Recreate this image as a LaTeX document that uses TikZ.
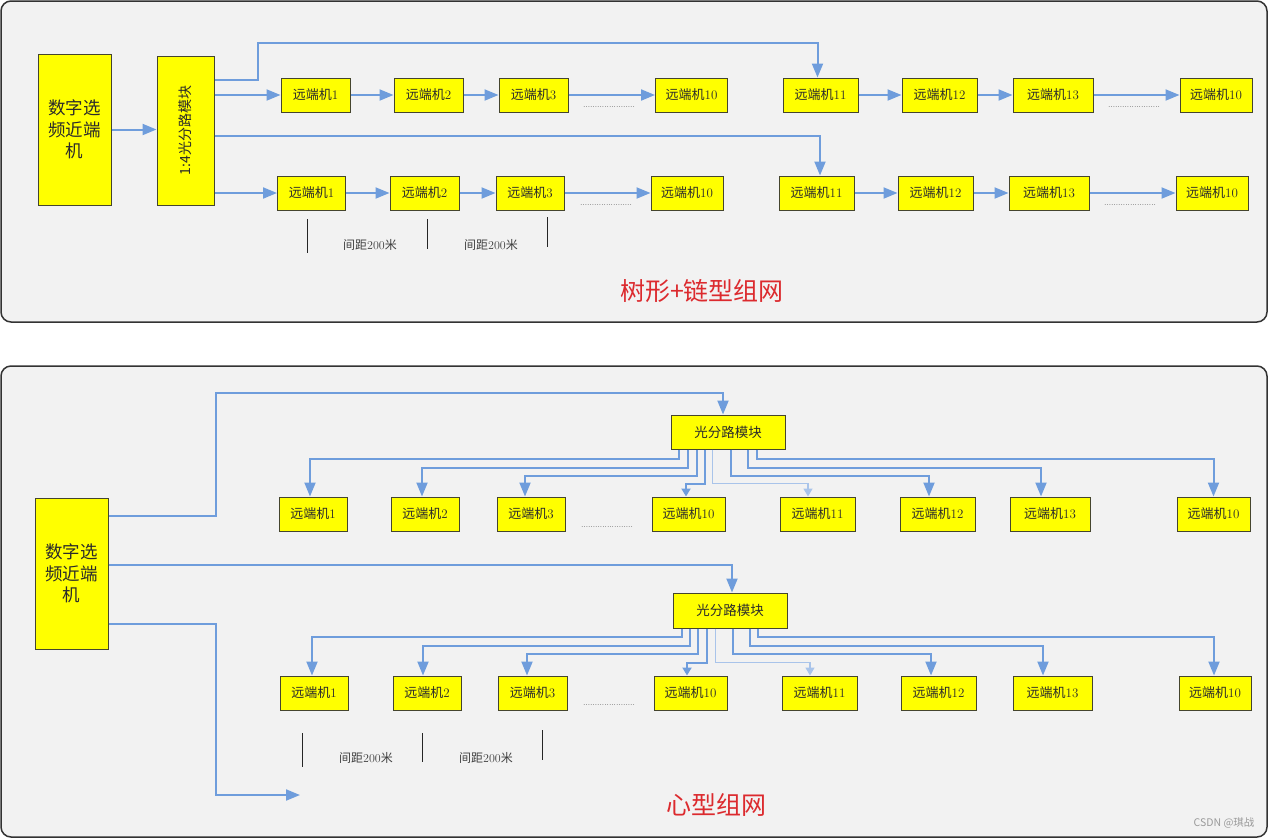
\documentclass[tikz,border=0pt]{standalone}
\usepackage{fontspec}
\usepackage{graphicx}
\newfontfamily\cjk{Noto Sans CJK SC}
\usetikzlibrary{arrows.meta,calc}
\definecolor{panelFill}{HTML}{F2F2F2}
\definecolor{panelStroke}{HTML}{333333}
\definecolor{boxFill}{HTML}{FFFF00}
\definecolor{boxStroke}{HTML}{45452E}
\definecolor{fiber}{HTML}{6F9DDC}
\definecolor{fiberLight}{HTML}{A9C4EA}
\definecolor{titleRed}{HTML}{DC2A2E}
\definecolor{inkText}{HTML}{2B2B2B}
\definecolor{markGray}{HTML}{9A9A9A}
\newcommand{\ydj}[1]{{\cjk 远端机}#1}
\newcommand{\jianju}{{\cjk 间距}200{\cjk 米}}

\begin{document}
\begin{tikzpicture}[
  x=1pt, y=-1pt,
  every node/.style={text=inkText},
  panel/.style={draw=panelStroke, line width=1.5pt, fill=panelFill, rounded corners=10pt},
  remote/.style={draw=boxStroke, fill=boxFill, line width=1pt, inner sep=0pt,
                 minimum width=69pt, minimum height=34pt, font=\fontsize{13}{15}\selectfont},
  near/.style={remote, minimum width=73pt, minimum height=151pt, align=center,
               font=\cjk\fontsize{17.5}{21.5}\selectfont},
  splitbox/.style={remote, minimum width=114pt, minimum height=34pt,
                   font=\cjk\fontsize{13.5}{15}\selectfont},
  flow/.style={-{Triangle[length=14pt,width=11pt]}, line width=2pt, draw=fiber},
  fan/.style={flow},
  fansmall/.style={-{Triangle[length=8pt,width=9pt]}, line width=2pt, draw=fiber},
  fanlight/.style={-{Triangle[length=8pt,width=9pt]}, line width=1.5pt, draw=fiberLight},
  tick/.style={line width=0.8pt, draw=black!85},
  dist/.style={font=\fontsize{12}{14}\selectfont, text=black!75},
  dots/.style={font=\fontsize{8}{8}\selectfont, text=black!85, inner sep=0pt},
  title/.style={font=\cjk\fontsize{25}{28}\selectfont, text=titleRed},
]
\useasboundingbox (0,0) rectangle (1269,839);

% ---------------- PANELS ----------------
\draw[panel] (1,1) rectangle (1267,322);
\draw[panel] (1,366) rectangle (1267,837);

% ---------------- TREE + CHAIN (top) ----------------
\node[near] (NEAR1) at (74.5,129.5) {数字选\\频近端\\机};
\node[remote, minimum width=57pt, minimum height=149pt] (SPLIT) at (185.5,130.5)
  {\rotatebox{90}{\cjk\fontsize{14}{16}\selectfont 1:4光分路模块}};

\node[remote] (TA1) at (315.5,95) {\ydj{1}};
\node[remote] (TA2) at (428.5,95) {\ydj{2}};
\node[remote] (TA3) at (533.5,95) {\ydj{3}};
\node[dots] (TAdots) at (609,107) {......................};
\node[remote, minimum width=72pt] (TA10) at (691.5,95) {\ydj{10}};
\node[remote, minimum width=75pt] (TA11) at (820.5,95) {\ydj{11}};
\node[remote, minimum width=75pt] (TA12) at (939.5,95) {\ydj{12}};
\node[remote, minimum width=80pt] (TA13) at (1053,95) {\ydj{13}};
\node[dots] (TAdots2) at (1134,107) {......................};
\node[remote, minimum width=72pt] (TAE) at (1216,95) {\ydj{10}};

\node[remote, minimum width=68pt] (TB1) at (311.5,193) {\ydj{1}};
\node[remote] (TB2) at (424.5,193) {\ydj{2}};
\node[remote, minimum width=68pt] (TB3) at (530,193) {\ydj{3}};
\node[dots] (TBdots) at (606,205) {......................};
\node[remote, minimum width=72pt] (TB10) at (687,193) {\ydj{10}};
\node[remote, minimum width=75pt] (TB11) at (816.5,193) {\ydj{11}};
\node[remote, minimum width=75pt] (TB12) at (935.5,193) {\ydj{12}};
\node[remote, minimum width=80pt] (TB13) at (1049,193) {\ydj{13}};
\node[dots] (TBdots2) at (1130,205) {......................};
\node[remote, minimum width=72pt] (TBE) at (1212,193) {\ydj{10}};

\draw[flow] (NEAR1.east) -- (NEAR1.east -| SPLIT.west);
\draw[flow] ([yshift=-24pt]SPLIT.north east) -- ++(43,0) -- ++(0,-37) -| ([xshift=-3pt]TA11.north);
\draw[flow] (SPLIT.east |- TA1) -- (TA1);
\draw[flow] ([yshift=-5.5pt]SPLIT.east) -| ([xshift=3.5pt]TB11.north);
\draw[flow] (SPLIT.east |- TB1) -- (TB1);

\draw[flow] (TA1) -- (TA2);
\draw[flow] (TA2) -- (TA3);
\draw[flow] (TA3) -- (TA10);
\draw[flow] (TA11) -- (TA12);
\draw[flow] (TA12) -- (TA13);
\draw[flow] (TA13) -- (TAE);
\draw[flow] (TB1) -- (TB2);
\draw[flow] (TB2) -- (TB3);
\draw[flow] (TB3) -- (TB10);
\draw[flow] (TB11) -- (TB12);
\draw[flow] (TB12) -- (TB13);
\draw[flow] (TB13) -- (TBE);

% spacing marks
\draw[tick] (307,219) -- ++(0,34);
\draw[tick] (427,219) -- ++(0,30);
\draw[tick] (547,217) -- ++(0,30);
\node[dist] (TD1) at (370,245) {\jianju};
\node[dist] (TD2) at (491,245) {\jianju};

\node[title] (TITLE1) at (702,291) {树形+链型组网};

% ---------------- HEART (bottom) ----------------
\node[near] (NEAR2) at (71.5,573.5) {数字选\\频近端\\机};
\node[splitbox] (SPL1) at (728,432) {光分路模块};
\node[splitbox, minimum height=35pt] (SPL2) at (730,610.5) {光分路模块};

\node[remote, minimum width=68pt] (HA1) at (313,514) {\ydj{1}};
\node[remote, minimum width=68pt] (HA2) at (425,514) {\ydj{2}};
\node[remote, minimum width=68pt] (HA3) at (531,514) {\ydj{3}};
\node[dots] (HAdots) at (607,527) {......................};
\node[remote, minimum width=73pt] (HA10) at (688.5,514) {\ydj{10}};
\node[remote, minimum width=75pt] (HA11) at (817.5,514) {\ydj{11}};
\node[remote, minimum width=75pt] (HA12) at (937.5,514) {\ydj{12}};
\node[remote, minimum width=80pt] (HA13) at (1050,514) {\ydj{13}};
\node[remote, minimum width=73pt] (HAE) at (1213.5,514) {\ydj{10}};

\node[remote, minimum width=68pt] (HB1) at (314,693) {\ydj{1}};
\node[remote, minimum width=68pt] (HB2) at (427,693) {\ydj{2}};
\node[remote] (HB3) at (532.5,693) {\ydj{3}};
\node[dots] (HBdots) at (609,705) {......................};
\node[remote, minimum width=73pt] (HB10) at (690.5,693) {\ydj{10}};
\node[remote, minimum width=75pt] (HB11) at (819.5,693) {\ydj{11}};
\node[remote, minimum width=75pt] (HB12) at (938.5,693) {\ydj{12}};
\node[remote, minimum width=79pt] (HB13) at (1052.5,693) {\ydj{13}};
\node[remote, minimum width=72pt] (HBE) at (1215,693) {\ydj{10}};

\coordinate (OPEN) at (300,795);
\draw[flow] ([yshift=-18pt]NEAR2.north east) -- ++(107,0) -- ++(0,-123) -| ([xshift=-5pt]SPL1.north);
\draw[flow] ([yshift=8.5pt]NEAR2.east) -| ([xshift=2pt]SPL2.north);
\draw[flow] ([yshift=-50.5pt]NEAR2.east) -- ++(107,0) |- (OPEN);

% fan-out of the first splitter
\draw[fan] ([xshift=8pt]SPL1.south west) -- ++(0,9) -| ([xshift=-3pt]HA1.north);
\draw[fan] ([xshift=17pt]SPL1.south west) -- ++(0,18) -| ([xshift=-3pt]HA2.north);
\draw[fan] ([xshift=26pt]SPL1.south west) -- ++(0,26) -| ([xshift=-6pt]HA3.north);
\draw[fansmall] ([xshift=34pt]SPL1.south west) -- ++(0,34) -| ([xshift=-2.5pt]HA10.north);
\draw[fanlight] ([xshift=42pt]SPL1.south west) -- ++(0,34) -| ([xshift=-9.5pt]HA11.north);
\draw[fan] ([xshift=60pt]SPL1.south west) -- ++(0,26) -| ([xshift=-8.5pt]HA12.north);
\draw[fan] ([xshift=77pt]SPL1.south west) -- ++(0,18) -| ([xshift=-9pt]HA13.north);
\draw[fan] ([xshift=86pt]SPL1.south west) -- ++(0,9) -| (HAE.north);

% fan-out of the second splitter
\draw[fan] ([xshift=9pt]SPL2.south west) -- ++(0,8) -| ([xshift=-2pt]HB1.north);
\draw[fan] ([xshift=17pt]SPL2.south west) -- ++(0,17) -| ([xshift=-4pt]HB2.north);
\draw[fan] ([xshift=25pt]SPL2.south west) -- ++(0,25) -| ([xshift=-5.5pt]HB3.north);
\draw[fansmall] ([xshift=34pt]SPL2.south west) -- ++(0,34) -| ([xshift=-3.5pt]HB10.north);
\draw[fanlight] ([xshift=43pt]SPL2.south west) -- ++(0,34) -| ([xshift=-9.5pt]HB11.north);
\draw[fan] ([xshift=60pt]SPL2.south west) -- ++(0,25) -| ([xshift=-7.5pt]HB12.north);
\draw[fan] ([xshift=77pt]SPL2.south west) -- ++(0,17) -| ([xshift=-9.5pt]HB13.north);
\draw[fan] ([xshift=85pt]SPL2.south west) -- ++(0,8) -| ([xshift=-1pt]HBE.north);

% spacing marks
\draw[tick] (302,733) -- ++(0,34);
\draw[tick] (422,733) -- ++(0,29);
\draw[tick] (542,730) -- ++(0,30);
\node[dist] (HD1) at (366,758) {\jianju};
\node[dist] (HD2) at (486,758) {\jianju};

\node[title] (TITLE2) at (716,805) {心型组网};

\node[font=\cjk\fontsize{10.5}{12}\selectfont, text=markGray, anchor=east] (MARK) at (1258,823) {CSDN @琪战};
\end{tikzpicture}
\end{document}
